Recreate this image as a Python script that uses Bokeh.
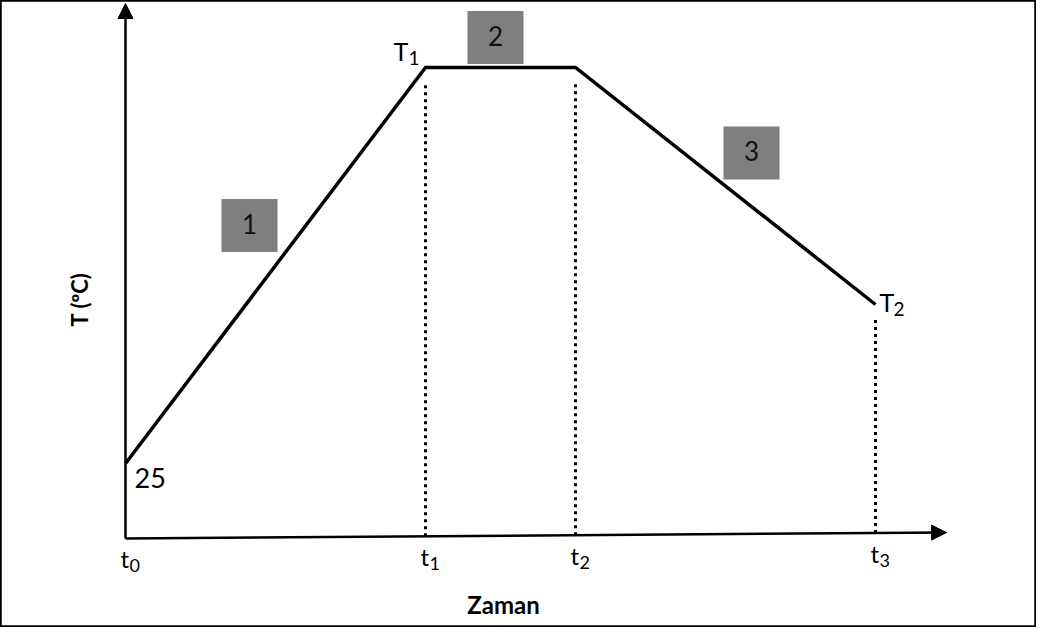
import numpy as np
from bokeh.plotting import figure
from bokeh.models import Range1d, Arrow, NormalHead
from bokeh.core.properties import value
from bokeh.embed import file_html
from bokeh.resources import INLINE

# ---------------- data (schematic heat-treatment profile) ----------------
time_points = [0.0, 4.0, 6.0, 10.0]        # t0, t1, t2, t3 (arbitrary time units)
temp_points = [25.0, 157.0, 157.0, 78.0]   # 25 °C, T1, T1, T2
time_main = ["t", "t", "t", "t"]
time_sub = ["0", "1", "2", "3"]
temp_main = ["T", "T"]
temp_sub = ["1", "2"]
phase_numbers = ["1", "2", "3"]
start_label = "25"
x_title = "Zaman"
y_title = "T (ºC)"

# ---------------- layout / style ----------------
W, H = 1036, 627
PX_X = 75.0      # pixels per time unit
PX_Y = 3.0       # pixels per degree
ORIGIN = (125, 538)   # frame pixel of (0, 0) measured from top-left
FONT = value("Lato")
AXIS_TILT_PX = 6.0    # the drawn time axis rises slightly towards its arrow
SHIFT = -10           # baseline correction for text

def dx(px):
    return px / PX_X

def dy(px):
    return px / PX_Y

x_start = -ORIGIN[0] / PX_X
y_start = -(H - ORIGIN[1]) / PX_Y
p = figure(width=W, height=H, title=None, output_backend="svg", toolbar_location=None,
           x_axis_type=None, y_axis_type=None, min_border=0,
           x_range=Range1d(x_start, x_start + W / PX_X),
           y_range=Range1d(y_start, y_start + H / PX_Y))
p.grid.visible = False
p.outline_line_color = "black"
p.outline_line_width = 2.5
p.background_fill_color = "white"
p.border_fill_color = "white"

# axes as arrows
x_axis_end = time_points[-1] + dx(71)
tilt = dy(AXIS_TILT_PX)
def axis_y(t):
    return tilt * t / x_axis_end

head = dict(size=15, fill_color="black", line_color="black", line_width=1)
p.add_layout(Arrow(end=NormalHead(**head),
                   x_start=0, y_start=0, x_end=x_axis_end, y_end=tilt,
                   line_width=2.5, line_color="black"))
p.add_layout(Arrow(end=NormalHead(**head),
                   x_start=0, y_start=0, x_end=0, y_end=p.y_range.end - dy(3),
                   line_width=2.5, line_color="black"))

# dotted drop lines from t1, t2, t3
dt = time_points[1:]
p.segment(x0=dt, y0=[axis_y(t) for t in dt], x1=dt,
          y1=[v - dy(15) for v in temp_points[1:]],
          line_color="black", line_width=3, line_dash="3 4")

# temperature profile
p.line(time_points, temp_points, line_color="black", line_width=3.5, line_join="miter")

# phase boxes
box_off = [(-26, 40), (-5, 30), (26, 33)]
bx, by = [], []
for i in range(3):
    mx = (time_points[i] + time_points[i + 1]) / 2
    my = (temp_points[i] + temp_points[i + 1]) / 2
    bx.append(mx + dx(box_off[i][0]))
    by.append(my + dy(box_off[i][1]))
p.rect(x=bx, y=by, width=56, height=53, width_units="screen", height_units="screen",
       fill_color="#7f7f7f", line_color=None)
p.text(x=bx, y=by, text=phase_numbers, text_font=FONT, text_font_size="26px",
       text_align="center", text_baseline="middle", text_color="#111111", y_offset=-2)

# start temperature label
p.text(x=[time_points[0]], y=[temp_points[0]], text=[start_label], text_font=FONT,
       text_font_size="27px", text_align="left", text_baseline="alphabetic",
       x_offset=9, y_offset=24 + SHIFT, text_color="black")

# time labels (t with subscripts)
ty = [axis_y(t) for t in time_points]
p.text(x=time_points, y=ty, text=time_main, text_font=FONT, text_font_size="24px",
       text_align="left", text_baseline="alphabetic", x_offset=-5, y_offset=30 + SHIFT,
       text_color="black")
p.text(x=time_points, y=ty, text=time_sub, text_font=FONT, text_font_size="18px",
       text_align="left", text_baseline="alphabetic", x_offset=4, y_offset=37 + SHIFT,
       text_color="black")

# temperature labels T1, T2
tx = [time_points[1], time_points[3]]
tv = [temp_points[1], temp_points[3]]
p.text(x=tx, y=tv, text=temp_main, text_font=FONT, text_font_size="25px",
       text_align="left", text_baseline="alphabetic",
       x_offset=[-32, 4], y_offset=[-7 + SHIFT, 7 + SHIFT], text_color="black")
p.text(x=tx, y=tv, text=temp_sub, text_font=FONT, text_font_size="19px",
       text_align="left", text_baseline="alphabetic",
       x_offset=[-17, 18], y_offset=[0 + SHIFT, 14 + SHIFT], text_color="black")

# axis titles
p.text(x=[(time_points[1] + time_points[2]) / 2], y=[0], text=[x_title], text_font=FONT,
       text_font_size="24px", text_font_style="bold", text_align="center",
       text_baseline="alphabetic", x_offset=3, y_offset=75 + SHIFT + 1, text_color="black")
p.text(x=[0], y=[dy(538 - 299)], text=[y_title], text_font=FONT, text_font_size="22px",
       text_font_style="bold", text_align="center", text_baseline="middle",
       x_offset=-46, angle=np.pi / 2, text_color="black")

open("out.html", "w").write(file_html(p, INLINE))
